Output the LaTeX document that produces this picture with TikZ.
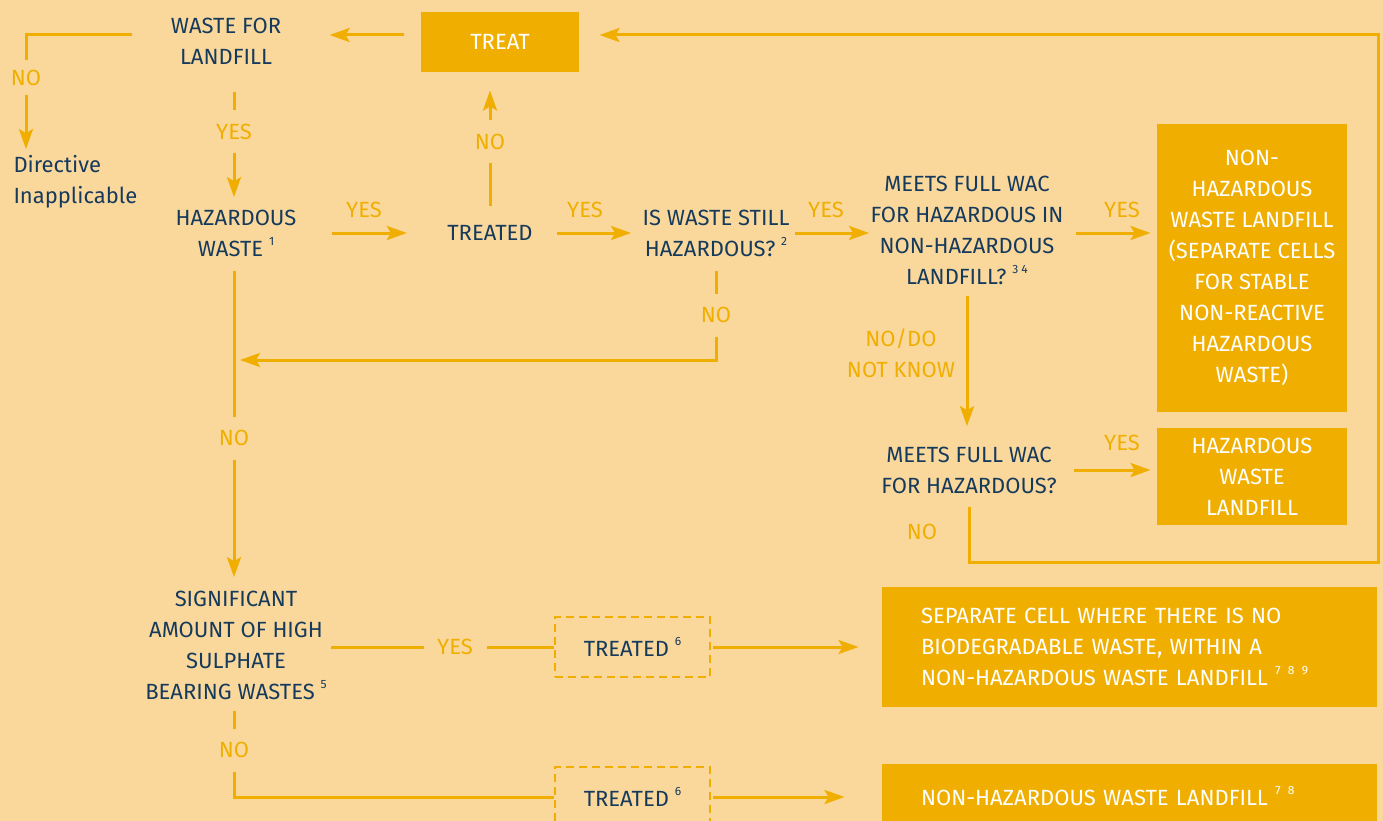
\documentclass[tikz,border=0pt]{standalone}
\usepackage{fontspec}
\setmainfont{Fira Sans}
\usetikzlibrary{arrows.meta, positioning, calc}
\definecolor{cbg}{HTML}{FAD89C}
\definecolor{camber}{HTML}{F0AF00}
\definecolor{cnavy}{HTML}{163A5C}
\newcommand{\fnote}[1]{\raisebox{0.5em}{\fontsize{12}{12}\selectfont #1}}
\tikzset{
  every picture/.style={line width=3pt, color=camber},
  ask/.style={text=cnavy, align=center, inner sep=0pt, font=\fontsize{22}{31}\selectfont},
  outbox/.style={fill=camber, text=white, align=center, inner sep=0pt, font=\fontsize{22}{31}\selectfont},
  widebox/.style={text width=417pt, inner xsep=39pt, align=left, minimum width=495pt},
  optbox/.style={draw=camber, dash pattern=on 8pt off 5pt, line width=2.5pt, text=cnavy, text depth=0pt, minimum width=155pt, minimum height=60pt, inner sep=0pt, font=\fontsize{22}{31}\selectfont},
  lbl/.style={text=camber, align=center, inner sep=0pt, minimum height=40pt, minimum width=60pt, font=\fontsize{22}{31}\selectfont},
  arrow/.style={-{Stealth[length=20pt, width=14pt, inset=4pt]}, draw=camber},
}
\begin{document}
\begin{tikzpicture}[x=1pt, y=-1pt]
  \fill[cbg] (0,0) rectangle (1383,821);
  \clip (0,0) rectangle (1383,821);
  % questions
  \node[ask] (land) at (226,41) {WASTE FOR\\LANDFILL};
  \node[ask, align=left, anchor=west] (dir) at (12,182) {Directive\\Inapplicable};
  \node[ask] (haz) at (236,233) {HAZARDOUS\\WASTE \fnote{1}};
  \node[ask] (trd) at (490,233) {TREATED};
  \node[ask] (still) at (716,233) {IS WASTE STILL\\HAZARDOUS? \fnote{2}};
  \node[ask] (wacn) at (967,230) {MEETS FULL WAC\\FOR HAZARDOUS IN\\NON-HAZARDOUS\\LANDFILL? \fnote{3\ 4}};
  \node[ask] (wach) at (969,470) {MEETS FULL WAC\\FOR HAZARDOUS?};
  \node[ask] (sulph) at (236,645) {SIGNIFICANT\\AMOUNT OF HIGH\\SULPHATE\\BEARING WASTES \fnote{5}};
  % outcomes
  \node[outbox, minimum width=158pt, minimum height=60pt] (treat) at (500,42) {TREAT};
  \node[outbox, minimum width=190pt, minimum height=288pt] (nhl) at (1252,268) {NON-\\HAZARDOUS\\WASTE LANDFILL\\(SEPARATE CELLS\\FOR STABLE\\NON-REACTIVE\\HAZARDOUS\\WASTE)};
  \node[outbox, minimum width=190pt, minimum height=97pt] (hwl) at (1252,476.5) {HAZARDOUS\\WASTE\\LANDFILL};
  \node[outbox, widebox, minimum height=120pt] (sep) at (1129.5,647) {SEPARATE CELL WHERE THERE IS NO\\BIODEGRADABLE WASTE, WITHIN A\\NON-HAZARDOUS WASTE LANDFILL \fnote{7\ 8\ 9}};
  \node[outbox, widebox, minimum height=64pt] (nhw) at (1129.5,796) {NON-HAZARDOUS WASTE LANDFILL \fnote{7\ 8}};
  % optional treatment
  \node[optbox] (opta) at (632.5,647) {TREATED \fnote{6}};
  \node[optbox] (optb) at (632.5,797) {TREATED \fnote{6}};
  % yes / no labels
  \foreach \n/\x/\y/\t in {no1/26/78/NO, yes1/234/132/YES, yes2/364/210/YES, no2/490/142/NO,
                           yes3/585/210/YES, no3/716/315/NO, yes4/826/210/YES, yes5/1122/210/YES,
                           yes6/1122/443/YES, no4/922/532/NO, no5/234/438/NO, yes7/455/647/YES, no6/234/750/NO} {
    \node[lbl] (\n) at (\x,\y) {\t};
  }
  \node[lbl] (nodk) at (901,353) {NO/DO\\NOT KNOW};
  \coordinate (loop) at (1378,562);
  \coordinate (merge) at (240,360);
  % connectors
  \draw[arrow, shorten <=16pt, shorten >=47pt] ([yshift=7pt]treat.west) -- ([yshift=7pt]treat.west -| land.east);
  \draw[arrow, shorten <=12pt, shorten >=19pt] (wach.south) |- (loop) |- ([yshift=7pt]treat.east);
  \draw[shorten <=37pt] ([yshift=6pt]land.west) -| ([yshift=-4pt]no1.north);
  \draw[arrow, shorten <=-4pt, shorten >=5pt] (no1.south) -- (no1.south |- dir.north);
  \draw[shorten <=26pt] (yes1.north |- land.south) -- (yes1.north);
  \draw[arrow, shorten >=11pt] (yes1.south) -- (yes1.south |- haz.north);
  \draw[arrow, shorten <=34pt, shorten >=39pt] (haz.east) -- (trd.west);
  \draw[shorten <=18pt] (no2.south |- trd.north) -- (no2.south);
  \draw[arrow, shorten >=17pt] (no2.north) -- (no2.north |- treat.south);
  \draw[arrow, shorten <=23pt, shorten >=10pt] (trd.east) -- (still.west);
  \draw[arrow, shorten <=4pt] (still.east) -- (still.east -| wacn.west);
  \draw[arrow, shorten <=11pt, shorten >=5pt] (wacn.east |- still.east) -- (still.east -| nhl.west);
  \draw[shorten <=13pt] (still.south) -- (no3.north);
  \draw[arrow] (no3.south) |- (merge);
  \draw[arrow, shorten <=10pt, shorten >=19pt] (wacn.south) -- (wacn.south |- wach.north);
  \draw[arrow, shorten <=16pt, shorten >=5pt] (wach.east) -- (wach.east -| hwl.west);
  \draw[shorten <=13pt] (no5.north |- haz.south) -- (no5.north);
  \draw[arrow, shorten >=12pt] (no5.south) -- (no5.south |- sulph.north);
  \draw[shorten <=3pt] (sulph.east |- yes7.west) -- (yes7.west);
  \draw (yes7.east) -- (opta.west);
  \draw[arrow, shorten <=2pt, shorten >=22pt] (opta.east) -- (sep.west);
  \draw[shorten <=10pt] (no6.north |- sulph.south) -- (no6.north);
  \draw (no6.south) |- (optb.west);
  \draw[arrow, shorten <=2pt, shorten >=36pt] (optb.east) -- (optb.east -| nhw.west);
\end{tikzpicture}
\end{document}
